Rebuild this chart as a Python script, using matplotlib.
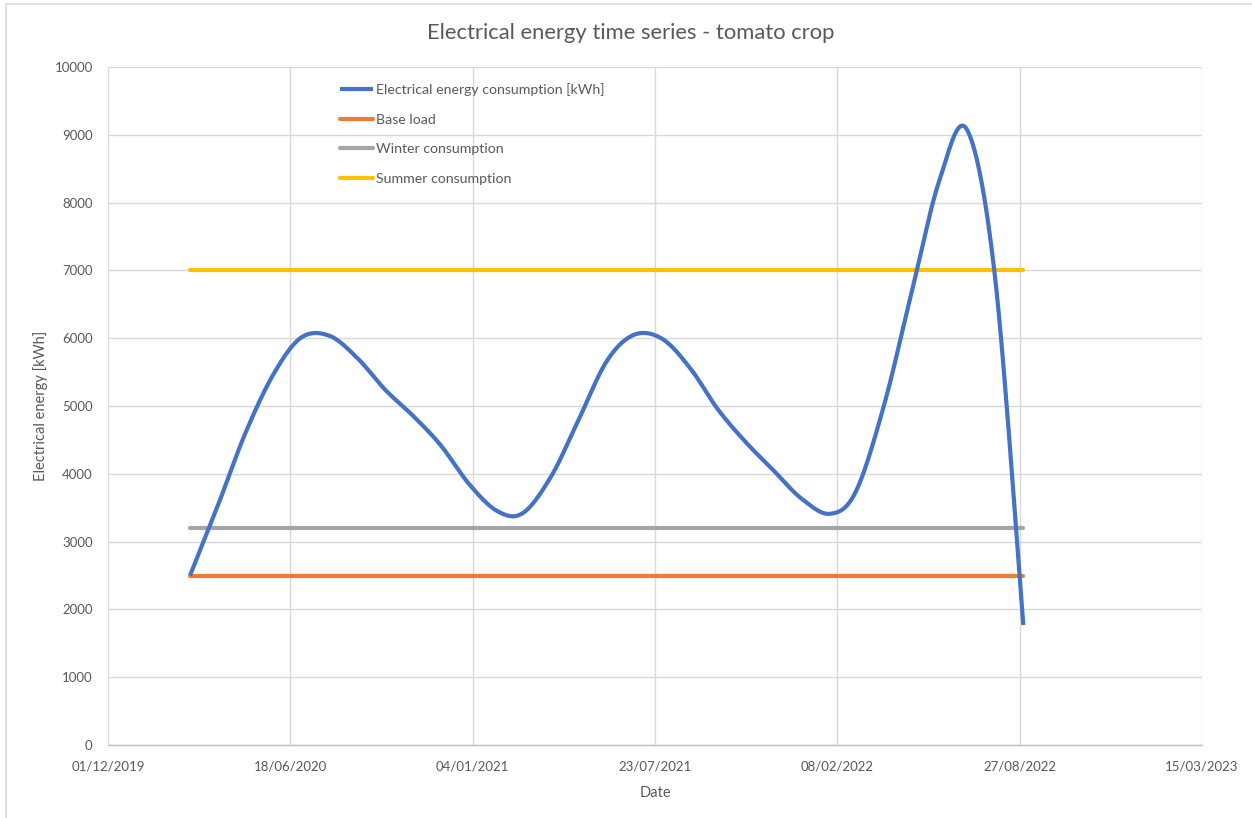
import datetime as dt
import numpy as np
import matplotlib
matplotlib.use("Agg")
import matplotlib.pyplot as plt
import matplotlib.dates as mdates

plt.rcParams['font.family'] = ['Lato', 'DejaVu Sans']

# Monthly electrical energy readings [kWh]
reading_dates = [
    "2020-02-29", "2020-03-31", "2020-04-30", "2020-05-31", "2020-06-30",
    "2020-07-31", "2020-08-31", "2020-09-30", "2020-10-31", "2020-11-30",
    "2020-12-31", "2021-01-31", "2021-02-28", "2021-03-31", "2021-04-30",
    "2021-05-31", "2021-06-30", "2021-07-31", "2021-08-31", "2021-09-30",
    "2021-10-31", "2021-11-30", "2021-12-31", "2022-01-31", "2022-02-28",
    "2022-03-31", "2022-04-30", "2022-05-31", "2022-06-30", "2022-07-31",
    "2022-08-31",
]
consumption = [
    2500, 3550, 4610, 5480, 6010,
    6035, 5700, 5240, 4850, 4420,
    3850, 3450, 3420, 3960, 4790,
    5660, 6050, 5990, 5550, 4950,
    4460, 4050, 3630, 3410, 3730,
    5000, 6650, 8330, 9080, 6900,
    1770,
]

# Reference levels drawn over the same period
level_dates = ["2020-02-29", "2022-08-31"]
base_load = [2500, 2500]
winter_consumption = [3200, 3200]
summer_consumption = [7000, 7000]

x_start, x_end = "2019-12-01", "2023-03-15"
tick_step_days = 200

BLUE, ORANGE, GREY, YELLOW = "#4472C4", "#ED7D31", "#A5A5A5", "#FFC000"
TEXT = "#595959"
GRID = "#D9D9D9"


def to_num(dates):
    return mdates.date2num([dt.datetime.strptime(d, "%Y-%m-%d") for d in dates])


def smooth_curve(x, y, samples=40):
    """Catmull-Rom style smoothing through every point (cubic Bezier segments)."""
    pts = np.column_stack([x, y]).astype(float)
    ext = np.vstack([pts[0], pts, pts[-1]])
    out = [pts[:1]]
    t = np.linspace(0, 1, samples)[1:, None]
    for i in range(len(pts) - 1):
        p0, p3 = ext[i + 1], ext[i + 2]
        p1 = p0 + (ext[i + 2] - ext[i]) / 6.0
        p2 = p3 - (ext[i + 3] - ext[i + 1]) / 6.0
        seg = ((1 - t) ** 3) * p0 + 3 * ((1 - t) ** 2) * t * p1 \
            + 3 * (1 - t) * t ** 2 * p2 + t ** 3 * p3
        out.append(seg)
    c = np.vstack(out)
    return c[:, 0], c[:, 1]


W, H = 1252, 818
fig = plt.figure(figsize=(W / 100, H / 100), dpi=100)
ax = fig.add_axes([108 / W, 1 - 745 / H, (1202 - 108) / W, (745 - 67) / H])

# chart area outline
fig.patches.append(plt.Rectangle((6 / W, -0.1), 1.2, 1 - 4 / H + 0.1,
                                 transform=fig.transFigure, fill=False,
                                 edgecolor=GRID, linewidth=1.2))

xr = to_num(reading_dates)
cx, cy = smooth_curve(xr, consumption)
ax.plot(cx, cy, color=BLUE, lw=3, solid_capstyle="butt",
        label="Electrical energy consumption [kWh]", zorder=3)

xl = to_num(level_dates)
ax.plot(xl, base_load, color=ORANGE, lw=3, solid_capstyle="round",
        label="Base load", zorder=2)
ax.plot(xl, winter_consumption, color=GREY, lw=3, solid_capstyle="round",
        label="Winter consumption", zorder=2)
ax.plot(xl, summer_consumption, color=YELLOW, lw=3, solid_capstyle="round",
        label="Summer consumption", zorder=2)

x0, x1 = to_num([x_start, x_end])
ax.set_xlim(x0, x1)
ax.set_ylim(0, 10000)
ax.set_xticks(np.arange(x0, x1 + 1, tick_step_days))
ax.xaxis.set_major_formatter(mdates.DateFormatter("%d/%m/%Y"))
ax.set_yticks(np.arange(0, 10001, 1000))

ax.grid(True, color=GRID, lw=1)
ax.set_axisbelow(True)
for side in ("top", "right", "left"):
    ax.spines[side].set_visible(False)
ax.spines["bottom"].set_color("#BFBFBF")
ax.spines["bottom"].set_linewidth(1)
ax.tick_params(length=0, labelsize=9.5, colors=TEXT)
ax.tick_params(axis="y", pad=11)
ax.tick_params(axis="x", pad=11)

ax.set_xlabel("Date", fontsize=10.5, color=TEXT, labelpad=10)
ax.set_ylabel("Electrical energy [kWh]", fontsize=10.5, color=TEXT, labelpad=5)
fig.text(631 / W, 1 - 33 / H, "Electrical energy time series - tomato crop",
         ha="center", va="center", fontsize=15.8, color=TEXT)

leg = ax.legend(loc="upper left", bbox_to_anchor=(340 / W, 1 - 83 / H),
                bbox_transform=fig.transFigure, frameon=False,
                fontsize=10.2, handlelength=2.33, handletextpad=0.2,
                labelspacing=1.25, borderpad=0, borderaxespad=0)
for t in leg.get_texts():
    t.set_color(TEXT)

fig.savefig("out.png", dpi=100, facecolor="white")
